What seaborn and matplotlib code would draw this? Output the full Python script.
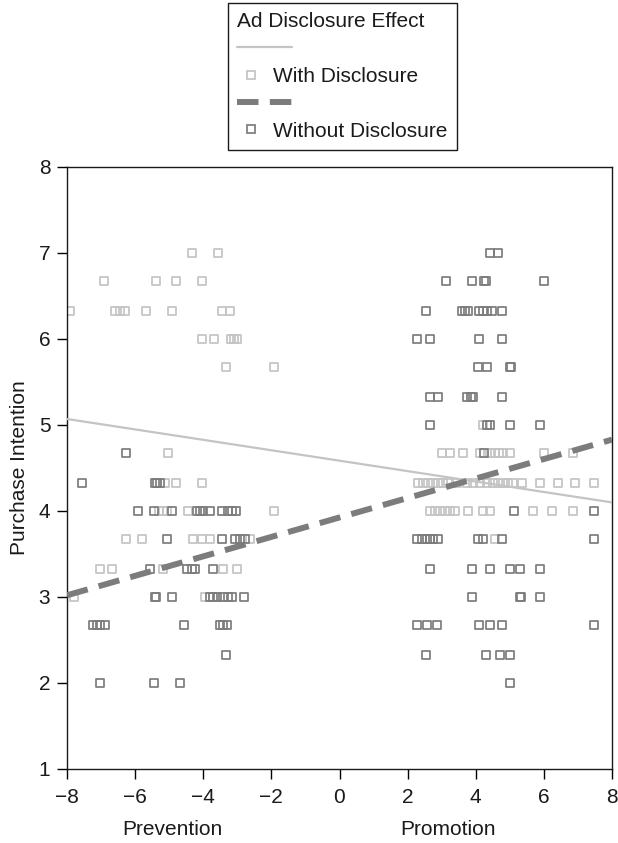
import matplotlib
matplotlib.use("Agg")
import matplotlib.pyplot as plt
import seaborn as sns
import pandas as pd
from matplotlib.lines import Line2D
from matplotlib.legend_handler import HandlerBase
import matplotlib.transforms as mtransforms

# ---------------- data ----------------
legend_title = "Ad Disclosure Effect"
series_names = ["With Disclosure", "Without Disclosure"]

# With Disclosure points, grouped by Purchase Intention level
with_levels = [7.00, 6.67, 6.33, 6.00, 5.67, 5.00, 4.67, 4.33, 4.00, 3.67, 3.33, 3.00]
with_x_rows = [
    [-4.33, -3.57],
    [-6.91, -5.39, -4.80, -4.04],
    [-7.91, -6.59, -6.44, -6.30, -5.68, -4.92, -3.45, -3.21],
    [-4.04, -3.68, -3.19, -3.10, -3.00],
    [-3.33, -1.92],
    [4.21],
    [-5.03, 3.01, 3.24, 3.63, 4.13, 4.42, 4.57, 4.68, 4.80, 5.00, 6.00, 6.86],
    [-5.12, -4.80, -4.04, 2.31, 2.45, 2.60, 2.75, 2.89, 3.04, 3.19, 3.45, 3.74,
     3.92, 4.13, 4.33, 4.51, 4.65, 4.80, 4.95, 5.09, 5.36, 5.89, 6.42, 6.92, 7.47],
    [-5.30, -5.18, -5.06, -4.45, -1.92, 2.66, 2.80, 2.95, 3.10, 3.24, 3.39, 3.77,
     4.21, 4.42, 5.68, 6.24, 6.86],
    [-6.27, -5.80, -4.30, -4.04, -3.80, -2.63, 4.57],
    [-7.03, -6.68, -5.18, -3.42, -3.00],
    [-7.80, -3.95],
]

# Without Disclosure points, grouped by Purchase Intention level
without_levels = [7.00, 6.67, 6.33, 6.00, 5.67, 5.33, 5.00, 4.67, 4.33, 4.00,
                  3.67, 3.33, 3.00, 2.67, 2.33, 2.00]
without_x_rows = [
    [4.42, 4.65],
    [3.13, 3.89, 4.24, 4.30, 6.00],
    [2.54, 3.60, 3.69, 3.77, 4.10, 4.21, 4.33, 4.48, 4.77],
    [2.28, 2.66, 4.10, 4.77],
    [4.07, 4.33, 5.00, 5.03],
    [2.66, 2.89, 3.74, 3.86, 3.92, 4.77],
    [2.66, 4.33, 4.42, 5.00, 5.89],
    [-6.27, 4.24],
    [-7.56, -5.42, -5.36, -5.27],
    [-5.92, -5.45, -4.92, -4.18, -4.10, -4.00, -3.80, -3.45, -3.27, -3.16, -3.04,
     5.12, 7.47],
    [-5.06, -3.45, -3.07, -2.92, -2.77, 2.28, 2.42, 2.57, 2.66, 2.75, 2.89, 4.07,
     4.21, 4.77, 7.47],
    [-5.56, -4.48, -4.33, -4.24, -3.71, 2.66, 3.89, 4.42, 5.00, 5.30, 5.89],
    [-5.42, -5.38, -4.92, -3.80, -3.71, -3.60, -3.42, -3.27, -3.16, -2.80,
     3.89, 5.30, 5.33, 5.89],
    [-7.24, -7.12, -7.03, -6.88, -4.56, -3.50, -3.42, -3.30,
     2.28, 2.57, 2.86, 4.10, 4.42, 4.77, 7.47],
    [-3.33, 2.54, 4.30, 4.71, 5.00],
    [-7.03, -5.45, -4.68, 5.00],
]

# fitted lines (values at the x-axis ends)
line_x = [-8, 8]
with_line_y = [5.07, 4.10]
without_line_y = [3.02, 4.83]

group_labels = ["Prevention", "Promotion"]
group_label_x = [-4.9, 3.2]

x_ticks = [-8, -6, -4, -2, 0, 2, 4, 6, 8]
y_ticks = [1, 2, 3, 4, 5, 6, 7, 8]


def flatten(levels, rows):
    xs, ys = [], []
    for lv, row in zip(levels, rows):
        for v in row:
            xs.append(v)
            ys.append(lv)
    return xs, ys


wx, wy = flatten(with_levels, with_x_rows)
nx, ny = flatten(without_levels, without_x_rows)
df_with = pd.DataFrame({"x": wx, "y": wy})
df_without = pd.DataFrame({"x": nx, "y": ny})

# ---------------- style ----------------
sns.set_theme(style="ticks")
plt.rcParams["font.family"] = ["Liberation Sans", "DejaVu Sans"]
plt.rcParams["axes.unicode_minus"] = True

LIGHT = "#c4c4c4"
DARK = "#7c7c7c"
FS = 15

fig = plt.figure(figsize=(6.18, 8.43), dpi=100)
ax = fig.add_axes([67 / 618, 1 - 769 / 843, 545 / 618, 602 / 843])

sns.scatterplot(data=df_with, x="x", y="y", ax=ax, marker="s", s=34,
                color=LIGHT, facecolor="none", edgecolor=LIGHT, linewidth=1.25,
                zorder=2, legend=False)
sns.scatterplot(data=df_without, x="x", y="y", ax=ax, marker="s", s=34,
                color=DARK, facecolor="none", edgecolor=DARK, linewidth=1.25,
                zorder=3, legend=False)

sns.lineplot(x=line_x, y=with_line_y, ax=ax, color=LIGHT, linewidth=1.6,
             zorder=4, legend=False)
sns.lineplot(x=line_x, y=without_line_y, ax=ax, color=DARK, linewidth=4.3,
             zorder=5, legend=False)
ax.lines[-1].set_dashes((3.6, 1.9))

ax.set_xlim(-8, 8)
ax.set_ylim(1, 8)
ax.set_xticks(x_ticks)
ax.set_yticks(y_ticks)
ax.tick_params(axis="both", labelsize=FS, direction="out", length=7,
               width=1, color="black", labelcolor="#1a1a1a")
ax.tick_params(axis="x", pad=7)
ax.tick_params(axis="y", pad=5)
for sp in ax.spines.values():
    sp.set_visible(True)
    sp.set_color("#1a1a1a")
    sp.set_linewidth(1.0)
ax.set_xlabel("")
ax.set_ylabel("Purchase Intention", fontsize=FS, color="#1a1a1a", labelpad=7)

trans = mtransforms.blended_transform_factory(ax.transData, ax.transAxes)
for lab, xp in zip(group_labels, group_label_x):
    ax.text(xp, -0.0997, lab, transform=trans, ha="center", va="center",
            fontsize=FS, color="#1a1a1a")


# ---------------- legend ----------------
class LongLineHandler(HandlerBase):
    def __init__(self, length):
        super().__init__()
        self.length = length

    def create_artists(self, legend, orig_handle, xdescent, ydescent, width,
                       height, fontsize, trans):
        y = height / 2 - ydescent
        ln = Line2D([0, 1], [0, 1])
        ln.update_from(orig_handle)
        ln.set_data([-xdescent, -xdescent + self.length * fontsize], [y, y])
        ln.set_transform(trans)
        return [ln]


class LeftMarkerHandler(HandlerBase):
    def __init__(self, offset):
        super().__init__()
        self.offset = offset

    def create_artists(self, legend, orig_handle, xdescent, ydescent, width,
                       height, fontsize, trans):
        y = height / 2 - ydescent
        m = Line2D([-xdescent + self.offset * fontsize], [y], linestyle="none",
                   marker="s", markersize=orig_handle.get_markersize(),
                   markerfacecolor="none",
                   markeredgecolor=orig_handle.get_markeredgecolor(),
                   markeredgewidth=orig_handle.get_markeredgewidth())
        m.set_transform(trans)
        return [m]


h_line1 = Line2D([], [], color=LIGHT, linewidth=1.6)
h_mark1 = Line2D([], [], linestyle="none", marker="s", markersize=5.8,
                 markerfacecolor="none", markeredgecolor=LIGHT,
                 markeredgewidth=1.25)
h_line2 = Line2D([], [], color=DARK, linewidth=4.3, dashes=(3.6, 1.9))
h_mark2 = Line2D([], [], linestyle="none", marker="s", markersize=5.8,
                 markerfacecolor="none", markeredgecolor=DARK,
                 markeredgewidth=1.25)

lh = LongLineHandler(2.6)
mh = LeftMarkerHandler(0.67)
leg = fig.legend(
    handles=[h_line1, h_mark1, h_line2, h_mark2],
    labels=["", series_names[0], "", series_names[1]],
    handler_map={h_line1: lh, h_line2: lh, h_mark1: mh, h_mark2: mh},
    loc="upper left", bbox_to_anchor=(228 / 618, 1 - 3 / 843),
    bbox_transform=fig.transFigure,
    title=legend_title, title_fontsize=FS, fontsize=FS,
    alignment="left", frameon=True, fancybox=False, framealpha=1,
    edgecolor="#1a1a1a", handlelength=1.0, handletextpad=0.7,
    labelspacing=0.4, borderpad=0.45, borderaxespad=0,
)
leg.get_frame().set_linewidth(1.0)
for t in leg.get_texts():
    t.set_color("#1a1a1a")
leg.get_title().set_color("#1a1a1a")

fig.savefig("out.png", dpi=100)
